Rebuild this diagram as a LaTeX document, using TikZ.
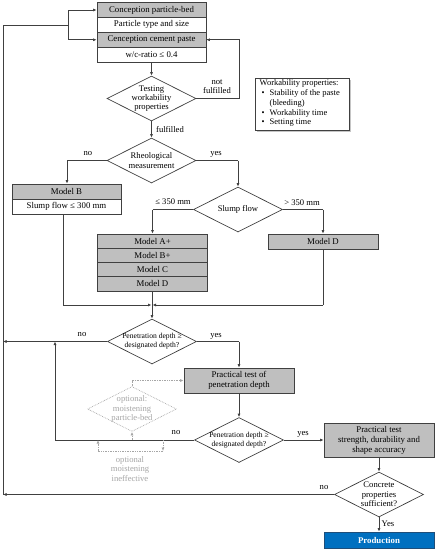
\documentclass[tikz,border=0pt]{standalone}
\usepackage{fontspec}
\setmainfont{Liberation Serif}
\usetikzlibrary{shapes.geometric,arrows.meta,shadows}
\definecolor{lineC}{HTML}{404040}
\definecolor{fillC}{HTML}{BFBFBF}
\definecolor{optC}{HTML}{A6A6A6}
\definecolor{prodC}{HTML}{0070C0}
\definecolor{prodB}{HTML}{1F4E79}
\tikzset{
  bx/.style={draw=lineC, line width=0.7pt, inner sep=0pt, minimum width=109pt, align=center, font=\fontsize{8.8}{10}\selectfont},
  gbx/.style={bx, fill=fillC},
  wbx/.style={bx, fill=white},
  dia/.style={diamond, draw=lineC, line width=0.7pt, inner sep=0pt, minimum width=89pt, minimum height=45pt, fill=white},
  dtxt/.style={align=center, font=\fontsize{8.6}{9.4}\selectfont, inner sep=0pt},
  ptxt/.style={align=center, font=\fontsize{7.6}{9}\selectfont, inner sep=0pt},
  lbl/.style={font=\fontsize{8.6}{9.4}\selectfont, inner sep=0pt, align=center},
  arr/.style={draw=lineC, line width=0.7pt, -{Latex[length=3.5pt,width=3pt]}},
  ln/.style={draw=lineC, line width=0.7pt},
  opt/.style={draw=optC, line width=0.7pt, densely dotted},
  optarr/.style={opt, -{Latex[length=3.5pt,width=3pt]}},
}
\begin{document}
\begin{tikzpicture}[x=1pt,y=-1pt]
\useasboundingbox[fill=white] (0,0) rectangle (436,550);

% top stack
\node[gbx, minimum height=14.5pt] (cpb) at (151.5,10) {Conception particle-bed};
\node[wbx, minimum height=15pt] (pts) at (151.5,24.75) {Particle type and size};
\node[gbx, minimum height=15pt] (ccp) at (151.5,39.75) {Cenception cement paste};
\node[wbx, minimum height=15pt] (wc) at (151.5,54.75) {w/c-ratio ≤ 0.4};

% workability note
\node[draw=lineC, line width=0.7pt, fill=white, inner sep=0pt, minimum width=94pt, minimum height=52pt,
      drop shadow={shadow xshift=1.5pt, shadow yshift=-1.5pt, fill=black!45}] (wp) at (302,104) {};
\node[font=\fontsize{8.5}{9.8}\selectfont, align=left, inner sep=0pt, anchor=north west] (wpt) at (259.5,79.5)
  {Workability properties:\\
   \hspace*{2pt}\makebox[8pt][l]{\textbullet}Stability of the paste\\
   \hspace*{10pt}(bleeding)\\
   \hspace*{2pt}\makebox[8pt][l]{\textbullet}Workability time\\
   \hspace*{2pt}\makebox[8pt][l]{\textbullet}Setting time};

% diamonds
\node[dia] (test) at (151.5,98.5) {};
\node[dtxt] (testT) at (test) {Testing\\workability\\properties};
\node[dia] (rheo) at (151.5,160.5) {};
\node[dtxt] (rheoT) at (rheo) {Rheological\\measurement};

% Model B
\node[gbx, minimum height=15.5pt] (mb) at (66.5,191.75) {Model B};
\node[wbx, minimum height=14.5pt] (mbs) at (66.5,206.75) {Slump flow ≤ 300 mm};

% slump flow
\node[dia] (slump) at (238,209.5) {};
\node[dtxt] (slumpT) at (slump) {Slump flow};

% model stack
\node[gbx, minimum width=110pt, minimum height=14.25pt] (ma) at (152.5,241.1) {Model A+};
\node[gbx, minimum width=110pt, minimum height=14.25pt] (mbp) at (152.5,255.35) {Model B+};
\node[gbx, minimum width=110pt, minimum height=14.25pt] (mc) at (152.5,269.6) {Model C};
\node[gbx, minimum width=110pt, minimum height=14.25pt] (md) at (152.5,283.85) {Model D};
\node[gbx, minimum width=110pt, minimum height=15pt] (mdr) at (323,241.5) {Model D};

% penetration 1
\node[dia] (pen1) at (152,341.5) {};
\node[ptxt] (pen1T) at (pen1) {Penetration depth ≥\\designated depth?};

% practical test 1
\node[gbx, minimum width=110pt, minimum height=25pt] (pt1) at (239,380.5) {Practical test of\\penetration depth};

% optional diamond
\node[diamond, draw=optC, line width=0.7pt, densely dotted, inner sep=0pt, minimum width=89pt, minimum height=45pt] (opt) at (132,409) {};
\node[dtxt, text=optC] (optT) at (opt) {optional:\\moistening\\particle-bed};

% penetration 2
\node[dia] (pen2) at (239,440) {};
\node[ptxt] (pen2T) at (pen2) {Penetration depth ≥\\designated depth?};

% practical test 2
\node[gbx, minimum width=110pt, minimum height=34pt] (pt2) at (379,440) {Practical test\\strength, durability and\\shape accuracy};

% concrete
\node[dia] (conc) at (379,494.5) {};
\node[dtxt] (concT) at (conc) {Concrete\\properties\\sufficient?};

% production
\node[draw=prodB, line width=0.7pt, fill=prodC, inner sep=0pt, minimum width=110pt, minimum height=16pt,
      text=white, font=\bfseries\fontsize{8.8}{10}\selectfont] (prod) at (379,540) {Production};

% coordinates
\coordinate (LT) at (3,25);
\coordinate (LJ) at (68,25);
\coordinate (LA) at (68,10);
\coordinate (LB) at (68,39.75);
\coordinate (NF) at (239,98.5);
\coordinate (RN) at (67,160.5);
\coordinate (RY) at (238,160.5);
\coordinate (SL) at (152.5,209.5);
\coordinate (SR) at (323,209.5);
\coordinate (MBb) at (63,214);
\coordinate (MJL) at (63,305);
\coordinate (MJ) at (152,305);
\coordinate (MJR) at (323,305);
\coordinate (P1L) at (3,341.5);
\coordinate (P1Y) at (239,341.5);
\coordinate (P2L) at (55,440);
\coordinate (P2U) at (55,341.5);
\coordinate (CL) at (3,494.5);
\coordinate (O1) at (132,440);
\coordinate (I1) at (163,440);
\coordinate (I2) at (163,451);
\coordinate (I3) at (98,451);
\coordinate (I4) at (98,440);

% feedback to the top
\draw[ln] (CL) -- (LT) -- (LJ);
\draw[ln] (LA) -- (LB);
\draw[arr] (LA) -- (cpb.west);
\draw[arr] (LB) -- (ccp.west);

% main flow
\draw[arr] (wc.south) -- (test.north);
\draw[ln] (test.east) -- (NF) |- (ccp.east);
\draw[arr] (NF |- ccp.east) -- (ccp.east);
\draw[arr] (test.south) -- (rheo.north);
\draw[ln] (rheo.west) -- (RN);
\draw[arr] (RN) -- (RN |- mb.north);
\draw[ln] (rheo.east) -- (RY);
\draw[arr] (RY) -- (slump.north);
\draw[ln] (slump.west) -- (SL);
\draw[arr] (SL) -- (ma.north);
\draw[ln] (slump.east) -- (SR);
\draw[arr] (SR) -- (mdr.north);
\draw[ln] (MBb) -- (MJL);
\draw[arr] (MJL) -- ([xshift=-0.5pt]MJ);
\draw[ln] (mdr.south) -- (MJR);
\draw[arr] (MJR) -- ([xshift=0.5pt]MJ);
\draw[ln] (md.south -| MJ) -- (MJ);
\draw[arr] (MJ) -- (pen1.north);

\draw[arr] (pen1.west) -- (P1L);
\draw[ln] (pen1.east) -- (P1Y);
\draw[arr] (P1Y) -- (pt1.north);
\draw[arr] (pt1.south) -- (pen2.north);
\draw[ln] (pen2.west) -- (P2L);
\draw[arr] (P2L) -- (P2U);
\draw[arr] (pen2.east) -- (pt2.west);
\draw[arr] (pt2.south) -- (conc.north);
\draw[arr] (conc.west) -- (CL);
\draw[arr] (conc.south) -- (prod.north);

% optional paths
\draw[optarr] (O1) -- (opt.south);
\draw[optarr] (opt.north) |- (pt1.west);
\draw[optarr] (I1) -- (I2);
\draw[opt] (I2) -- (I3);
\draw[optarr] (I3) -- (I4);

% labels
\node[lbl] (lnf) at (217,86.5) {not\\fulfilled};
\node[lbl] (lf) at (170,130) {fulfilled};
\node[lbl] (lrn) at (88,154) {no};
\node[lbl] (lry) at (216,154.5) {yes};
\node[lbl] (lsl) at (173,202) {≤ 350 mm};
\node[lbl] (lsr) at (302,202.5) {> 350 mm};
\node[lbl] (lp1n) at (82,335) {no};
\node[lbl] (lp1y) at (216,336) {yes};
\node[lbl] (lp2n) at (176,433) {no};
\node[lbl] (lp2y) at (303,434) {yes};
\node[lbl] (lcn) at (324,488) {no};
\node[lbl] (lcy) at (388,524) {Yes};
\node[lbl, text=optC] (lin) at (130,469) {optional\\moistening\\ineffective};
\end{tikzpicture}
\end{document}
